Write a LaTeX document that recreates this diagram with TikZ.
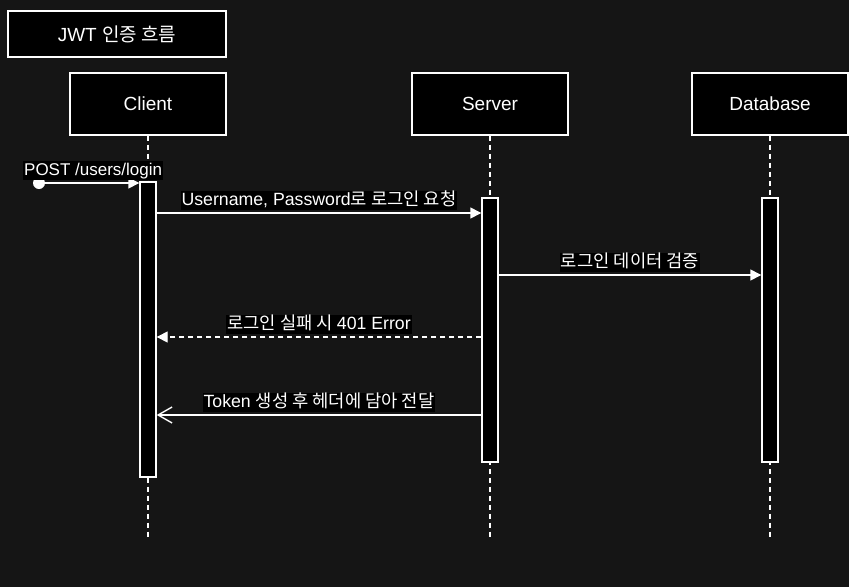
\documentclass[tikz,border=0pt]{standalone}
\usepackage{fontspec}
\setmainfont{Liberation Sans}
\newfontfamily\kr{Noto Sans CJK KR}
\usetikzlibrary{arrows.meta}
\definecolor{bgcol}{RGB}{21,21,21}

\begin{document}
\begin{tikzpicture}[x=1pt,y=-1pt,
  box/.style={draw=white,fill=black,text=white,line width=1.4pt,
    minimum width=156pt,minimum height=62pt,font=\fontsize{19}{21}\selectfont},
  bar/.style={draw=white,fill=black,line width=1.4pt,minimum width=16pt,inner sep=0pt},
  life/.style={white,line width=1.4pt,dash pattern=on 5pt off 4pt},
  msg/.style={white,line width=1.4pt,-{Triangle[length=11pt,width=11pt]}},
  reply/.style={msg,dash pattern=on 5pt off 4pt},
  openmsg/.style={white,line width=1.4pt,-{Straight Barb[length=14pt,width=16pt,line width=1.4pt]}},
  lbl/.style={fill=black,text=white,inner sep=1pt,text height=13pt,text depth=4pt,
    font=\fontsize{17.7}{20}\selectfont}]

  % Background
  \fill[bgcol] (0,0) rectangle (849,587);
  \useasboundingbox (0,0) rectangle (849,587);

  % Title and actors
  \node[box,minimum width=218pt,minimum height=46pt] (title) at (117,34) {JWT {\kr 인증 흐름}};
  \node[box] (client) at (148,104) {Client};
  \node[box] (server) at (490,104) {Server};
  \node[box] (db) at (770,104) {Database};

  % Lifelines
  \coordinate (clientend) at (148,540);
  \coordinate (serverend) at (490,540);
  \coordinate (dbend) at (770,540);
  \draw[life] (client.south) -- (clientend);
  \draw[life] (server.south) -- (serverend);
  \draw[life] (db.south) -- (dbend);

  % Activation bars
  \node[bar,minimum height=295pt] (clientbar) at (148,329.5) {};
  \node[bar,minimum height=264pt] (serverbar) at (490,330) {};
  \node[bar,minimum height=264pt] (dbbar) at (770,330) {};

  % Messages
  \coordinate (start) at (39,183);
  \fill[white] (start) circle (6pt);
  \draw[msg] (start) -- (clientbar.west |- start)
    node[lbl,midway,above=2pt,xshift=4pt,font=\fontsize{17}{20}\selectfont] {POST /users/login};
  \draw[msg] (clientbar.east |- 0,213) -- (serverbar.west |- 0,213)
    node[lbl,midway,above=2pt] {Username, Password{\kr 로 로그인 요청}};
  \draw[msg] (serverbar.east |- 0,275) -- (dbbar.west |- 0,275)
    node[lbl,midway,above=2pt] {\kr 로그인 데이터 검증};
  \draw[reply] (serverbar.west |- 0,337) -- (clientbar.east |- 0,337)
    node[lbl,midway,above=2pt] {{\kr 로그인 실패 시 }401 Error};
  \draw[openmsg] (serverbar.west |- 0,415) -- (clientbar.east |- 0,415)
    node[lbl,midway,above=2pt] {Token {\kr 생성 후 헤더에 담아 전달}};

\end{tikzpicture}
\end{document}
